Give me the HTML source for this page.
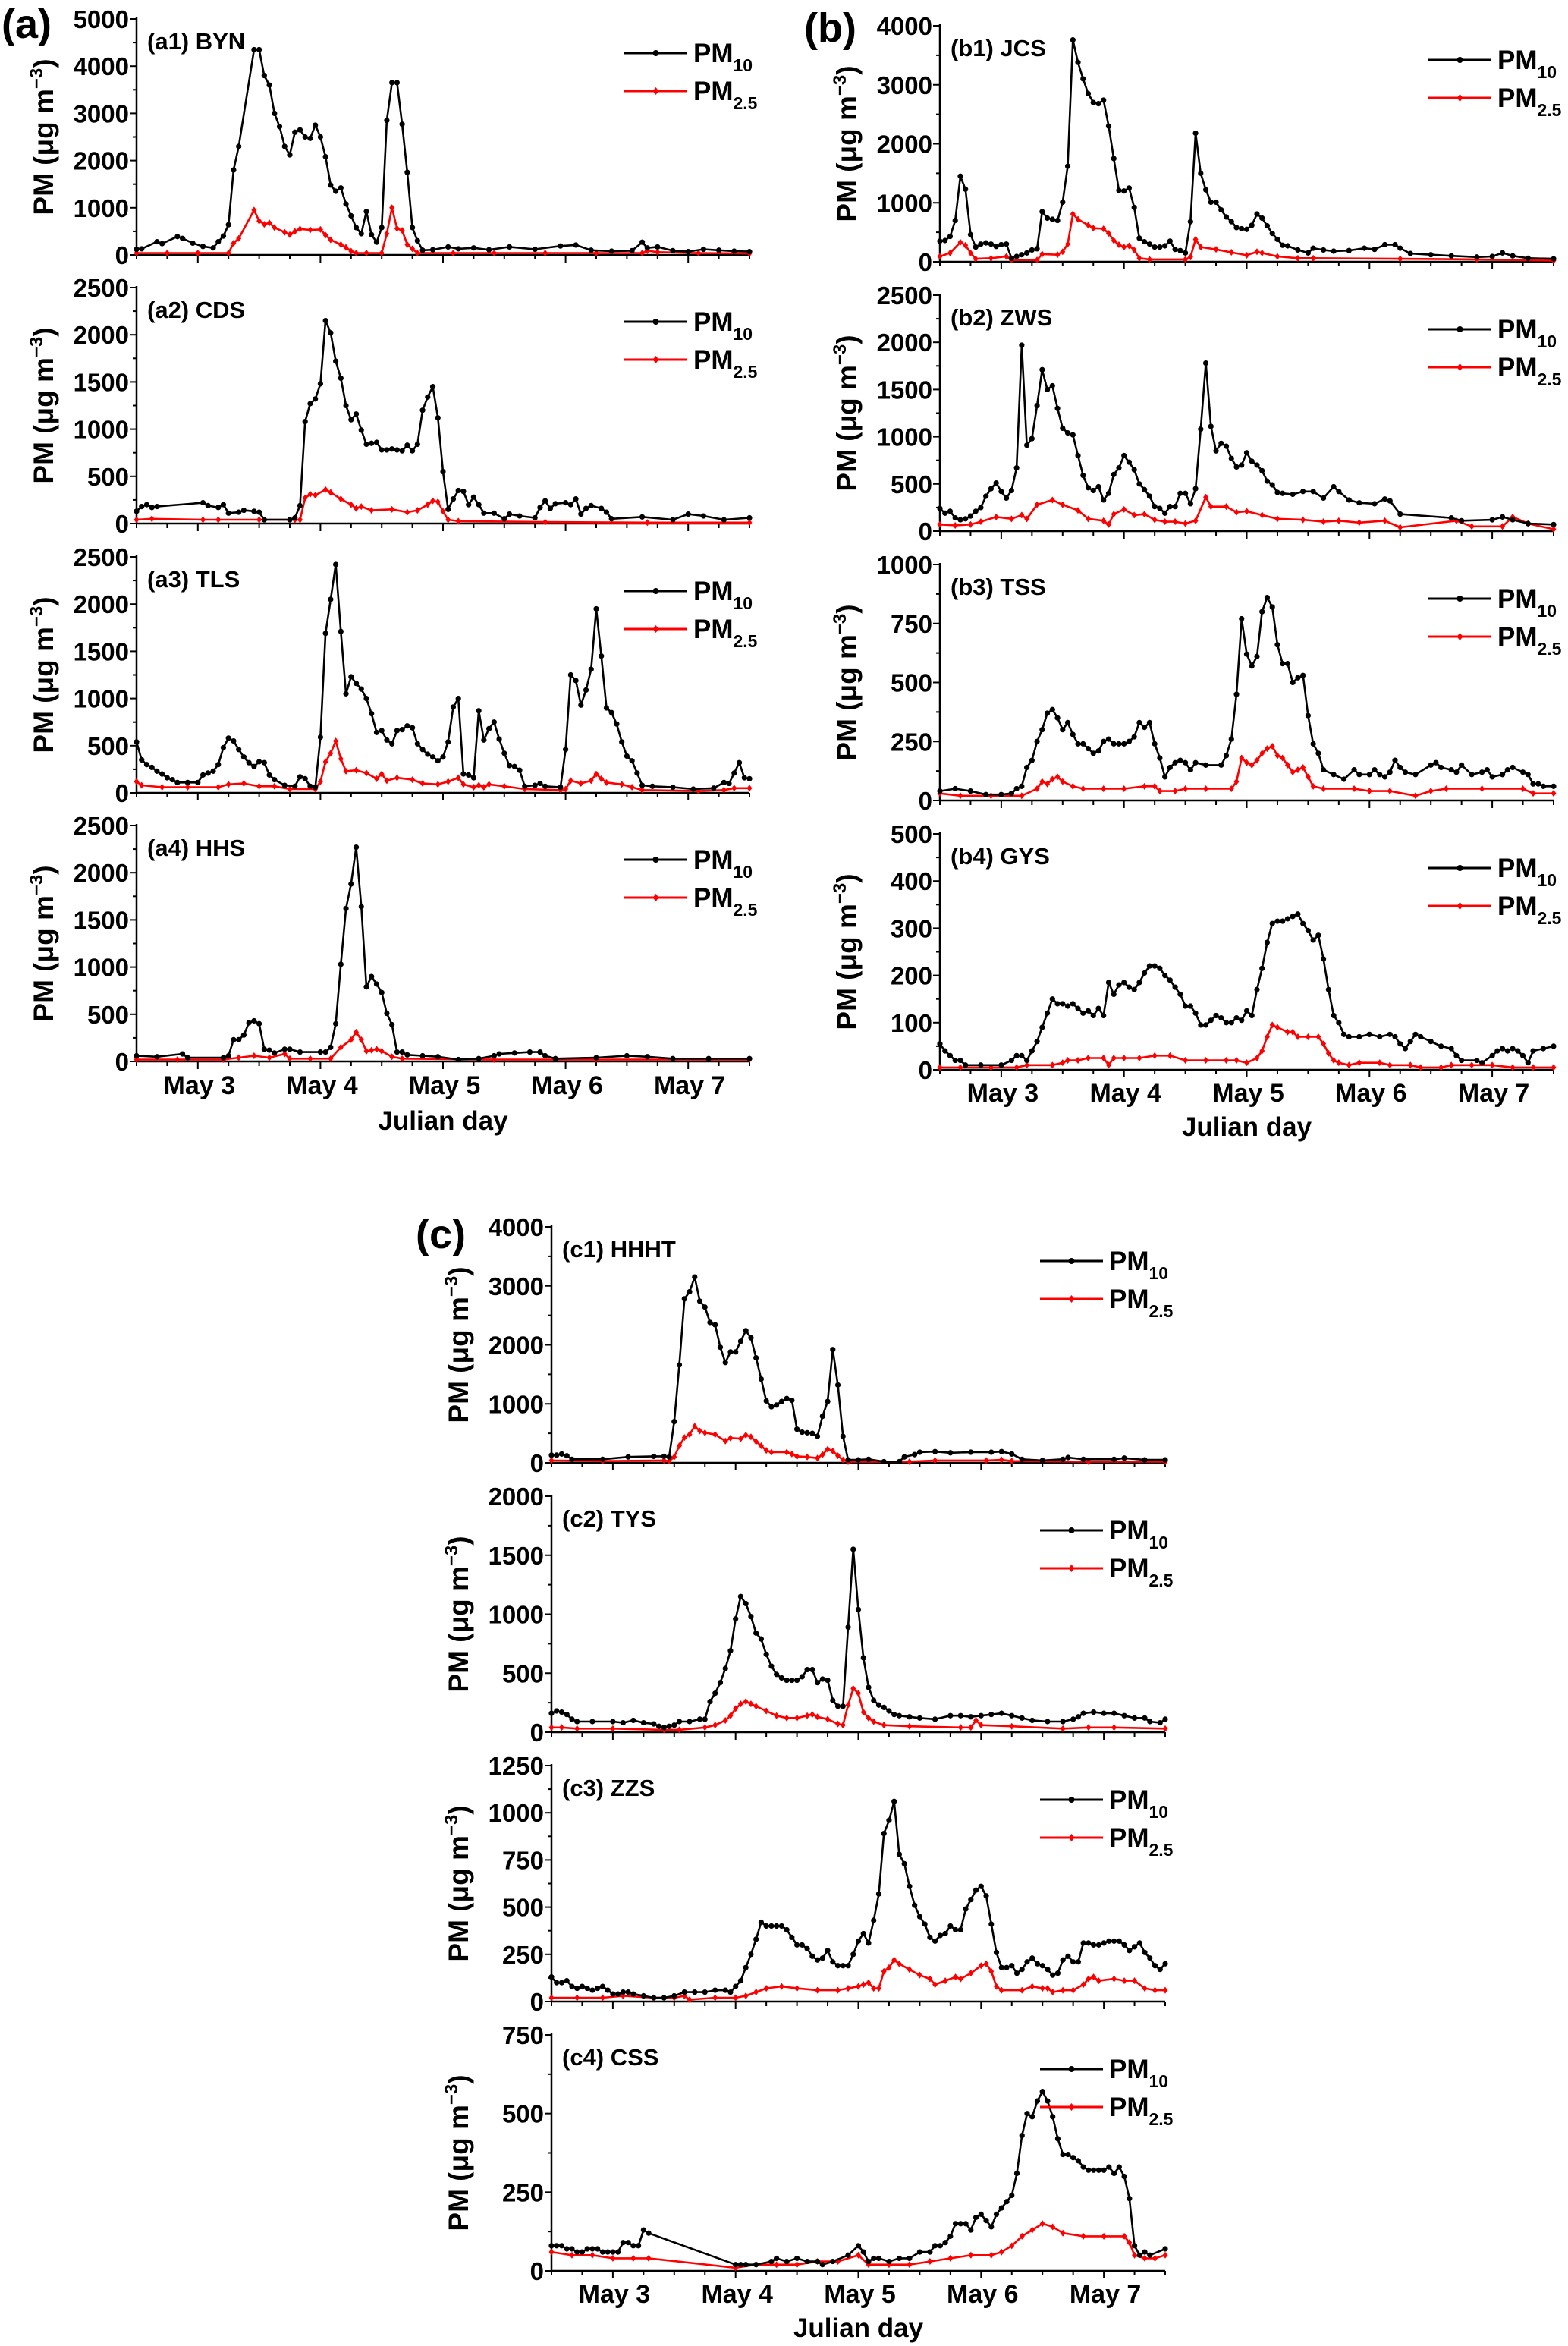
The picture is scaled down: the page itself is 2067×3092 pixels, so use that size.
<!DOCTYPE html>
<html><head><meta charset="utf-8"><style>
html,body{margin:0;padding:0;background:#fff}
svg{display:block;font-family:"Liberation Sans",Arial,sans-serif;font-weight:bold}
</style></head><body>
<svg id="fig" width="2067" height="3092" viewBox="0 0 2067 3092" xmlns="http://www.w3.org/2000/svg"></svg>
<script>
// ===== data: [hour since May 2 12:00, concentration µg m-3] =====
const stations = ["(a1) BYN","(a2) CDS","(a3) TLS","(a4) HHS","(b1) JCS","(b2) ZWS","(b3) TSS","(b4) GYS","(c1) HHHT","(c2) TYS","(c3) ZZS","(c4) CSS"];
const dayLabels = ["May 3","May 4","May 5","May 6","May 7"];
const dayHours = [12,36,60,84,108];
const yMaxes = [5000,2500,2500,2500,4000,2500,1000,500,4000,2000,1250,750];
const ySteps = [1000,500,500,500,1000,500,250,100,1000,500,250,250];

const a1PM10=[[0,120],[1,130],[4,280],[5,240],[8,390],[9,350],[11,250],[13,180],[15,150],[16,280],[17,400],[18,640],[19,1800],[20,2300],[23,4350],[24,4350],[25,3800],[26,3600],[27,3000],[28,2720],[29,2300],[30,2120],[31,2600],[32,2650],[33,2500],[34,2470],[35,2750],[36,2500],[37,2080],[38,1480],[39,1350],[40,1420],[41,1080],[42,830],[43,580],[44,450],[45,920],[46,430],[47,270],[48,580],[49,2850],[50,3650],[51,3650],[52,2770],[53,1750],[54,580],[55,300],[56,100],[58,110],[61,170],[63,130],[66,150],[69,110],[73,170],[78,120],[83,190],[86,210],[89,100],[93,80],[97,90],[99,270],[100,150],[102,170],[105,90],[108,70],[111,120],[114,100],[117,80],[120,70]];
const a1PM25=[[0,40],[6,40],[12,40],[18,40],[19,250],[20,350],[23,950],[24,720],[25,650],[26,680],[27,580],[29,480],[30,430],[31,500],[32,550],[34,530],[36,540],[37,420],[38,320],[40,220],[41,160],[42,80],[43,40],[45,40],[48,40],[49,450],[50,1000],[51,560],[52,520],[53,220],[54,130],[55,40],[62,40],[70,40],[80,40],[90,40],[99,40],[100,90],[102,60],[110,40],[120,30]];
const a2PM10=[[0,130],[1,180],[2,200],[3,170],[4,180],[13,220],[14,190],[16,170],[17,200],[18,110],[20,120],[21,140],[23,130],[24,120],[25,40],[30,40],[31,60],[32,190],[33,1080],[34,1270],[35,1320],[36,1480],[37,2150],[38,2020],[39,1720],[40,1540],[41,1250],[42,1100],[43,1160],[44,990],[45,840],[46,850],[47,860],[48,780],[49,780],[50,790],[51,780],[52,770],[53,830],[54,770],[55,840],[56,1200],[57,1340],[58,1450],[59,1120],[60,550],[61,150],[62,260],[63,350],[64,340],[65,200],[66,280],[67,200],[68,110],[70,110],[72,50],[73,100],[75,80],[78,60],[79,170],[80,240],[81,160],[82,210],[84,220],[85,200],[86,260],[87,100],[88,160],[89,190],[91,160],[92,120],[93,50],[99,70],[105,40],[108,100],[111,80],[115,40],[120,60]];
const a2PM25=[[0,40],[3,50],[13,40],[16,40],[24,40],[31,40],[32,40],[33,270],[34,310],[35,300],[37,360],[38,330],[40,260],[42,200],[43,160],[44,180],[46,140],[50,150],[53,120],[55,140],[57,200],[58,240],[59,230],[60,130],[61,40],[63,25],[80,15],[100,10],[120,10]];
const a3PM10=[[0,540],[1,350],[2,300],[3,270],[4,230],[5,200],[6,160],[7,140],[8,110],[10,110],[12,110],[13,190],[14,210],[15,230],[16,300],[17,480],[18,580],[19,550],[20,460],[21,380],[22,320],[23,280],[24,330],[25,320],[26,190],[27,140],[29,80],[31,70],[32,170],[33,150],[34,70],[35,60],[36,590],[37,1690],[38,2050],[39,2420],[40,1710],[41,1050],[42,1230],[43,1160],[44,1100],[45,1000],[46,840],[47,640],[48,660],[49,560],[50,520],[51,660],[52,670],[53,710],[54,690],[55,520],[56,460],[57,410],[58,380],[59,340],[60,380],[61,540],[62,910],[63,1000],[64,200],[65,190],[66,160],[67,870],[68,560],[69,680],[70,750],[71,570],[72,420],[73,290],[74,280],[75,240],[76,70],[78,80],[79,100],[80,70],[83,60],[84,460],[85,1250],[86,1190],[87,930],[88,1090],[89,1310],[90,1950],[91,1450],[92,900],[93,850],[94,730],[95,540],[96,390],[97,340],[98,210],[99,80],[101,70],[105,60],[109,40],[113,50],[115,110],[116,100],[117,210],[118,320],[119,160],[120,150]];
const a3PM25=[[0,120],[1,80],[5,60],[10,60],[16,60],[18,90],[21,100],[24,70],[27,70],[30,40],[35,40],[36,120],[37,330],[38,420],[39,550],[40,360],[41,230],[43,240],[45,210],[47,150],[48,200],[49,130],[51,160],[54,140],[56,100],[59,90],[61,120],[63,160],[64,90],[66,60],[67,80],[68,60],[69,90],[72,70],[76,40],[83,30],[84,40],[85,130],[87,100],[89,130],[90,200],[91,150],[92,110],[95,90],[97,60],[99,30],[110,20],[115,30],[117,50],[120,50]];
const a4PM10=[[0,60],[4,50],[9,80],[10,40],[17,40],[18,60],[19,230],[20,230],[21,280],[22,410],[23,430],[24,400],[25,130],[26,120],[27,90],[29,130],[30,130],[32,100],[36,100],[37,100],[38,150],[39,400],[40,1030],[41,1620],[42,1880],[43,2270],[44,1640],[45,790],[46,900],[47,820],[48,730],[49,510],[50,390],[51,100],[52,100],[53,70],[56,60],[59,50],[63,20],[67,30],[70,60],[71,80],[74,90],[77,100],[79,100],[80,60],[82,30],[90,40],[96,60],[100,50],[105,30],[112,30],[120,30]];
const a4PM25=[[0,20],[8,20],[17,20],[20,40],[23,60],[26,40],[29,80],[30,30],[34,30],[38,30],[40,150],[42,230],[43,310],[44,230],[45,110],[46,120],[47,130],[48,110],[50,50],[52,30],[70,20],[90,20],[120,20]];
const b1PM10=[[0,350],[1,360],[2,430],[3,700],[4,1450],[5,1230],[6,460],[7,250],[8,300],[9,320],[10,300],[11,260],[12,290],[13,300],[14,60],[15,90],[16,120],[17,150],[18,200],[19,220],[20,850],[21,740],[22,720],[23,700],[24,1010],[25,1620],[26,3760],[27,3380],[28,3100],[29,2850],[30,2700],[31,2680],[32,2740],[33,2300],[34,1750],[35,1210],[36,1200],[37,1250],[38,920],[39,400],[40,340],[41,300],[42,250],[43,250],[44,270],[45,350],[46,210],[47,190],[48,150],[49,680],[50,2180],[51,1500],[52,1220],[53,1010],[54,1010],[55,880],[56,760],[57,680],[58,580],[59,560],[60,550],[61,620],[62,810],[63,740],[64,610],[65,480],[66,380],[67,280],[68,270],[70,200],[72,150],[73,230],[75,200],[77,180],[80,190],[83,230],[85,210],[87,290],[89,290],[90,230],[92,140],[96,120],[100,100],[105,80],[108,90],[110,150],[112,100],[115,60],[120,50]];
const b1PM25=[[0,90],[2,150],[4,330],[5,280],[6,150],[7,50],[10,60],[13,90],[14,30],[19,30],[20,130],[23,120],[24,170],[25,300],[26,810],[27,720],[29,620],[30,570],[32,560],[33,480],[34,360],[35,290],[36,250],[37,270],[38,200],[39,60],[41,40],[48,40],[49,80],[50,380],[51,250],[54,210],[57,160],[60,110],[62,170],[63,150],[66,90],[70,60],[73,60],[90,50],[105,40],[120,20]];
const b2PM10=[[0,240],[1,190],[2,210],[3,140],[4,120],[5,130],[6,160],[7,210],[8,250],[9,370],[10,450],[11,510],[12,420],[13,350],[14,430],[15,670],[16,1970],[17,910],[18,980],[19,1330],[20,1710],[21,1500],[22,1540],[23,1300],[24,1090],[25,1040],[26,1020],[27,800],[28,590],[29,460],[30,430],[31,470],[32,330],[33,400],[34,600],[35,670],[36,800],[37,730],[38,650],[39,500],[40,440],[41,370],[42,260],[43,240],[44,190],[45,260],[46,260],[47,400],[48,400],[49,290],[50,450],[51,1080],[52,1780],[53,1110],[54,850],[55,930],[56,900],[57,770],[58,680],[59,700],[60,830],[61,740],[62,700],[63,640],[64,530],[65,490],[66,410],[67,400],[69,390],[71,420],[73,420],[75,350],[77,470],[78,420],[80,330],[82,300],[85,290],[87,340],[88,320],[90,180],[100,140],[102,110],[108,120],[110,150],[112,120],[115,80],[120,70]];
const b2PM25=[[0,70],[3,60],[6,70],[8,100],[11,150],[14,130],[16,170],[17,130],[19,280],[22,330],[24,280],[27,220],[29,130],[32,110],[33,70],[34,180],[36,230],[38,170],[40,180],[42,120],[44,100],[46,100],[48,80],[50,110],[52,360],[53,260],[56,260],[58,200],[60,210],[63,170],[66,130],[71,120],[75,100],[78,110],[82,90],[87,110],[90,40],[101,110],[104,50],[110,50],[112,150],[115,80],[120,20]];
const b3PM10=[[0,40],[3,50],[6,40],[9,25],[12,25],[14,30],[15,50],[16,60],[17,140],[18,170],[19,250],[20,300],[21,370],[22,385],[23,350],[24,300],[25,330],[26,280],[27,240],[28,240],[29,220],[30,200],[31,210],[32,250],[33,260],[34,240],[35,240],[36,240],[37,250],[38,270],[39,330],[40,310],[41,330],[42,240],[43,180],[44,100],[45,140],[46,160],[47,170],[48,160],[49,130],[50,160],[52,150],[55,150],[56,190],[57,260],[58,450],[59,770],[60,620],[61,570],[62,610],[63,800],[64,860],[65,820],[66,660],[67,580],[68,580],[69,500],[70,520],[71,530],[72,360],[73,240],[74,200],[75,130],[77,110],[79,90],[81,130],[82,110],[84,110],[85,130],[86,110],[87,100],[88,120],[89,170],[90,140],[91,120],[93,110],[96,150],[97,160],[98,140],[100,130],[101,120],[102,150],[104,110],[106,120],[107,130],[108,100],[110,110],[111,130],[112,140],[114,120],[115,110],[116,70],[117,70],[118,60],[120,60]];
const b3PM25=[[0,30],[4,20],[10,20],[16,20],[19,50],[20,80],[21,70],[22,90],[23,100],[24,80],[26,60],[28,50],[32,50],[36,50],[40,60],[42,60],[43,40],[46,40],[48,50],[52,50],[57,50],[58,80],[59,180],[60,160],[61,150],[62,170],[63,200],[64,220],[65,230],[66,190],[67,180],[68,150],[69,120],[70,130],[71,140],[72,100],[73,60],[75,50],[81,50],[84,40],[88,40],[93,20],[96,40],[99,50],[106,50],[114,50],[116,30],[120,30]];
const b4PM10=[[0,55],[1,40],[2,30],[3,20],[4,20],[5,10],[8,10],[12,10],[14,20],[15,30],[16,30],[17,20],[18,40],[19,60],[20,90],[21,120],[22,150],[23,140],[24,140],[25,135],[26,140],[27,130],[28,120],[29,125],[30,115],[31,130],[32,115],[33,185],[34,160],[35,180],[36,185],[37,175],[38,170],[39,185],[40,205],[41,220],[42,220],[43,215],[44,200],[45,190],[46,175],[47,160],[48,135],[49,135],[50,120],[51,95],[52,95],[53,105],[54,115],[55,110],[56,100],[57,100],[58,110],[59,105],[60,125],[61,115],[62,170],[63,215],[64,270],[65,310],[66,315],[67,315],[68,320],[69,325],[70,330],[71,310],[72,295],[73,275],[74,285],[75,235],[76,170],[77,115],[78,100],[79,75],[80,70],[82,70],[84,75],[86,70],[88,75],[89,70],[90,55],[91,45],[92,60],[93,75],[94,70],[96,60],[98,50],[100,45],[101,30],[102,20],[105,20],[106,15],[108,30],[109,40],[110,45],[111,40],[112,45],[113,40],[114,30],[115,15],[116,40],[118,45],[120,50]];
const b4PM25=[[0,5],[4,5],[10,5],[15,5],[17,10],[22,10],[24,15],[25,20],[27,20],[29,25],[32,25],[33,10],[34,25],[36,25],[39,25],[42,30],[45,30],[48,20],[52,20],[56,20],[58,20],[60,15],[62,25],[63,40],[64,70],[65,95],[66,90],[68,80],[69,80],[70,70],[72,70],[74,70],[75,55],[76,35],[77,20],[78,15],[80,10],[82,15],[86,15],[88,10],[92,10],[94,5],[98,5],[100,10],[104,10],[108,10],[112,5],[116,5],[120,5]];
const c1PM10=[[0,130],[1,130],[2,150],[3,120],[4,60],[10,60],[15,100],[20,110],[22,110],[23,100],[24,700],[25,1660],[26,2780],[27,2900],[28,3150],[29,2740],[30,2640],[31,2380],[32,2340],[33,1960],[34,1700],[35,1880],[36,1880],[37,2060],[38,2240],[39,2120],[40,1780],[41,1420],[42,1050],[43,950],[44,980],[45,1040],[46,1090],[47,1060],[48,570],[49,520],[50,510],[51,500],[52,450],[53,790],[54,1040],[55,1920],[56,1320],[57,450],[58,50],[60,50],[62,60],[65,20],[68,20],[69,100],[71,140],[72,180],[75,190],[78,170],[82,180],[86,180],[88,190],[90,150],[92,60],[96,40],[100,60],[101,90],[104,60],[110,60],[112,80],[116,50],[120,50]];
const c1PM25=[[0,40],[10,30],[22,40],[23,30],[24,100],[25,290],[26,430],[27,480],[28,620],[29,540],[30,510],[32,480],[34,370],[35,420],[37,410],[38,470],[39,440],[40,360],[41,290],[42,210],[43,180],[46,180],[47,150],[48,110],[50,100],[52,80],[53,140],[54,230],[55,200],[56,120],[57,50],[58,20],[70,20],[75,40],[85,40],[88,50],[90,30],[105,20],[120,20]];
const c2PM10=[[0,160],[1,180],[2,170],[3,150],[4,110],[5,90],[8,90],[12,90],[14,80],[16,100],[18,80],[20,70],[21,50],[22,40],[23,50],[24,60],[25,90],[27,90],[29,110],[30,110],[31,260],[32,330],[33,420],[34,540],[35,690],[36,960],[37,1150],[38,1090],[39,980],[40,840],[41,790],[42,660],[43,560],[44,490],[45,460],[46,440],[47,440],[48,440],[49,470],[50,530],[51,530],[52,420],[53,450],[54,440],[55,270],[56,220],[57,220],[58,890],[59,1550],[60,1040],[61,630],[62,380],[63,270],[64,230],[65,210],[66,180],[67,150],[68,140],[70,130],[72,120],[75,110],[78,140],[80,140],[82,130],[84,140],[86,150],[88,160],[90,140],[92,120],[94,100],[97,90],[100,90],[102,110],[103,130],[104,160],[106,170],[108,160],[110,160],[112,140],[114,120],[116,120],[117,90],[119,80],[120,110]];
const c2PM25=[[0,40],[2,40],[5,30],[12,30],[22,20],[25,20],[30,40],[32,60],[34,100],[35,140],[36,200],[37,240],[38,260],[39,240],[40,220],[42,180],[44,140],[46,120],[48,120],[50,140],[51,150],[52,130],[54,110],[56,70],[57,60],[58,230],[59,370],[60,330],[61,170],[62,120],[63,90],[65,60],[70,50],[80,40],[82,40],[83,100],[84,60],[90,50],[100,30],[105,40],[110,40],[120,30]];
const c3PM10=[[0,130],[1,100],[2,100],[3,110],[4,80],[5,70],[6,80],[7,70],[8,60],[9,70],[10,80],[11,60],[12,40],[13,40],[14,50],[15,50],[16,40],[18,30],[20,20],[22,20],[24,30],[26,50],[28,50],[30,50],[32,60],[34,60],[35,50],[36,80],[37,110],[38,180],[39,250],[40,330],[41,420],[42,400],[43,400],[44,400],[45,400],[46,380],[47,340],[48,300],[49,300],[50,280],[51,240],[52,220],[53,230],[54,270],[55,210],[56,190],[57,190],[58,190],[59,250],[60,320],[61,360],[62,310],[63,430],[64,570],[65,890],[66,960],[67,1060],[68,780],[69,730],[70,610],[71,510],[72,450],[73,410],[74,340],[75,320],[76,350],[77,360],[78,400],[79,380],[80,380],[81,490],[82,540],[83,590],[84,610],[85,560],[86,410],[87,260],[88,180],[89,180],[90,190],[91,150],[92,170],[93,210],[94,230],[95,200],[96,190],[97,170],[98,140],[99,150],[100,220],[101,240],[102,210],[103,210],[104,310],[105,310],[106,300],[107,300],[108,310],[109,320],[110,320],[111,320],[112,300],[113,270],[114,290],[115,310],[116,260],[117,230],[118,190],[119,170],[120,200]];
const c3PM25=[[0,20],[5,20],[10,20],[14,30],[20,20],[24,20],[26,30],[27,10],[32,20],[36,20],[38,30],[40,50],[42,70],[45,80],[48,70],[52,60],[56,60],[58,70],[60,80],[61,90],[62,100],[63,70],[64,70],[65,160],[66,180],[67,220],[68,200],[70,170],[72,140],[74,120],[75,90],[77,110],[79,130],[80,120],[82,150],[84,190],[85,200],[86,160],[87,80],[88,60],[92,60],[94,80],[96,70],[97,70],[98,50],[100,60],[102,60],[104,90],[105,120],[106,130],[107,110],[110,120],[112,110],[114,110],[116,70],[118,60],[120,60]];
const c4PM10=[[0,80],[1,80],[2,80],[3,70],[4,70],[5,60],[6,60],[7,70],[8,70],[9,70],[10,60],[11,60],[12,60],[13,60],[14,90],[15,90],[16,80],[17,80],[18,130],[19,120],[36,20],[37,20],[38,20],[40,20],[43,30],[44,40],[46,30],[48,40],[50,30],[52,30],[53,20],[55,30],[58,50],[60,80],[61,60],[62,30],[63,40],[64,40],[66,30],[68,40],[70,40],[72,60],[74,60],[75,80],[76,80],[77,90],[78,110],[79,150],[80,150],[81,150],[82,130],[83,170],[84,180],[85,160],[86,140],[87,180],[88,200],[89,220],[90,240],[91,310],[92,430],[93,500],[94,490],[95,540],[96,570],[97,540],[98,490],[99,420],[100,370],[101,370],[102,360],[103,350],[104,330],[105,320],[106,320],[107,320],[108,320],[109,330],[110,310],[111,330],[112,300],[113,230],[114,80],[115,50],[116,60],[117,50],[120,70]];
const c4PM25=[[0,60],[4,50],[8,50],[12,40],[16,40],[19,40],[36,10],[40,20],[44,20],[48,20],[52,30],[56,30],[60,50],[62,20],[66,20],[70,20],[74,30],[78,40],[82,50],[86,50],[88,60],[90,80],[92,110],[94,130],[96,150],[98,140],[100,120],[104,110],[108,110],[112,110],[113,90],[114,50],[116,40],[118,40],[120,50]];

const pm10Series=[a1PM10,a2PM10,a3PM10,a4PM10,b1PM10,b2PM10,b3PM10,b4PM10,c1PM10,c2PM10,c3PM10,c4PM10];
const pm25Series=[a1PM25,a2PM25,a3PM25,a4PM25,b1PM25,b2PM25,b3PM25,b4PM25,c1PM25,c2PM25,c3PM25,c4PM25];

// ===== layout =====
const NS="http://www.w3.org/2000/svg";
const svg=document.getElementById('fig');
function mk(tag,attrs,parent){const e=document.createElementNS(NS,tag);for(const k in attrs)e.setAttribute(k,attrs[k]);(parent||svg).appendChild(e);return e;}
const groups=[
 {x0:180,x1:988,tops:[25,379,734,1088],tickY:1442,titleY:1489,letter:"(a)",lx:2,ly:50},
 {x0:1239,x1:2048,tops:[34,389,744,1099],tickY:1452,titleY:1497,letter:"(b)",lx:1060,ly:55},
 {x0:727,x1:1536,tops:[1617,1972,2327,2682],tickY:3035,titleY:3080,letter:"(c)",lx:548,ly:1645}
];
const H=311;
groups.forEach((g,gi)=>{
 const lt=mk('text',{x:g.lx,y:g.ly,'font-size':54});
 lt.textContent=g.letter;
 
 
 g.tops.forEach((top,pi)=>{
  const idx=gi*4+pi;
  const bot=top+H;
  const ymax=yMaxes[idx], step=ySteps[idx];
  const xs=h=>g.x0+h/120*(g.x1-g.x0);
  const ys=v=>bot-v/ymax*H;
  const pg=mk('g',{});
  
  
  mk('line',{x1:g.x0,y1:top-2,x2:g.x0,y2:bot,stroke:'#000','stroke-width':2.5},pg);
  mk('line',{x1:g.x0,y1:bot,x2:g.x1,y2:bot,stroke:'#000','stroke-width':2.5},pg);
  for(let v=0;v<=ymax+1e-6;v+=step/2){
   const major=Math.abs((v/step)-Math.round(v/step))<1e-6;
   const y=ys(v);
   mk('line',{x1:g.x0-(major?9:5),y1:y,x2:g.x0,y2:y,stroke:'#000','stroke-width':2},pg);
   if(major){const t=mk('text',{x:g.x0-10,y:y+12,'font-size':33,'text-anchor':'end'},pg);t.textContent=String(v);}
  }
  for(let h=0;h<=120;h+=6){
   const major=dayHours.includes(h);
   const x=xs(h);
   mk('line',{x1:x,y1:bot,x2:x,y2:bot+(major?10:6),stroke:'#000','stroke-width':2},pg);
  }
  if(pi===3){
   dayHours.forEach((h,i)=>{const t=mk('text',{x:xs(h)+2,y:g.tickY,'font-size':34,'text-anchor':'middle'},pg);t.textContent=dayLabels[i];});
   const jt=mk('text',{x:(g.x0+g.x1)/2,y:g.titleY,'font-size':35,'text-anchor':'middle'},pg);
   jt.textContent='Julian day';
   
   
  }
  const yt=mk('text',{transform:`translate(${g.x0-110},${top+H/2}) rotate(-90)`,'font-size':37,'text-anchor':'middle'},pg);
  yt.innerHTML='PM (μg m<tspan font-size="24" dy="-14">−3</tspan><tspan dy="14">)</tspan>';
  
  
  const pt=mk('text',{x:g.x0+14,y:top+40,'font-size':31},pg);
  pt.textContent=stations[idx];
  
  
  const drawSeries=(data,color,name,diamond)=>{
   const sg=mk('g',{},pg);
   
   
   mk('polyline',{points:data.map(d=>xs(d[0]).toFixed(1)+','+ys(d[1]).toFixed(1)).join(' '),fill:'none',stroke:color,'stroke-width':2.6,'stroke-linejoin':'round'},sg);
   data.forEach(d=>{
    const x=xs(d[0]),y=ys(d[1]);
    if(diamond) mk('path',{d:`M${x},${y-4.5}L${x+3.5},${y}L${x},${y+4.5}L${x-3.5},${y}Z`,fill:color},sg);
    else mk('circle',{cx:x,cy:y,r:3.6,fill:color},sg);
   });
  };
  drawSeries(pm25Series[idx],'#ff0000','pm25-series',true);
  drawSeries(pm10Series[idx],'#000000','pm10-series',false);
  const lg=mk('g',{},pg);
  
  
  const lx1=g.x1-165,lx2=g.x1-82;
  [[top+45,'#000','10',false],[top+95,'#ff0000','2.5',true]].forEach(r=>{
   mk('line',{x1:lx1,y1:r[0],x2:lx2,y2:r[0],stroke:r[1],'stroke-width':3},lg);
   const mx=(lx1+lx2)/2;
   if(r[3]) mk('path',{d:`M${mx},${r[0]-5}L${mx+4},${r[0]}L${mx},${r[0]+5}L${mx-4},${r[0]}Z`,fill:r[1]},lg);
   else mk('circle',{cx:mx,cy:r[0],r:4,fill:r[1]},lg);
   const t=mk('text',{x:lx2+8,y:r[0]+12,'font-size':35},lg);
   t.innerHTML='PM<tspan font-size="23" dy="12">'+r[2]+'</tspan>';
   
   
  });
 });
});
</script>
</body></html>
